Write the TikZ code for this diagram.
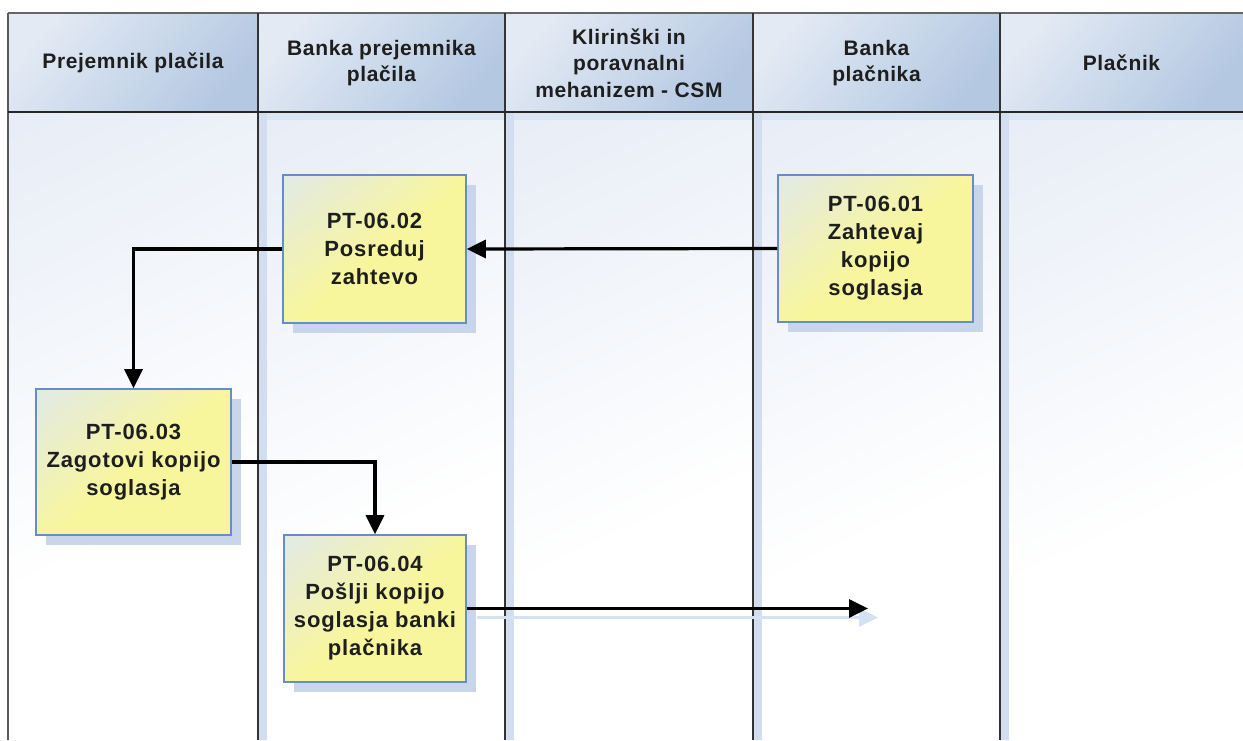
\documentclass[tikz,border=0pt]{standalone}
\usepackage{fontspec}
\setmainfont{Liberation Sans}
\newfontfamily\hdrfont{Liberation Sans}[LetterSpace=3]
\newfontfamily\boxfont{Liberation Sans}[LetterSpace=4]
\usetikzlibrary{arrows.meta}
\definecolor{hdrL}{HTML}{E3EAF4}
\definecolor{hdrR}{HTML}{B4C8E2}
\definecolor{laneTop}{HTML}{E6ECF6}
\definecolor{stripe}{HTML}{D2DEEF}
\definecolor{boxL}{HTML}{E4EBE0}
\definecolor{boxY}{HTML}{F8F69C}
\definecolor{boxBorder}{HTML}{658DCB}
\definecolor{shadowC}{HTML}{C9D6EA}
\definecolor{arrShadow}{HTML}{D6E1F1}
\definecolor{txt}{HTML}{1E1E1E}
\definecolor{lineC}{HTML}{333333}
\pgfdeclareverticalshading{boxshade}{100bp}{color(0bp)=(boxY); color(48bp)=(boxY); color(82bp)=(boxL); color(100bp)=(boxL)}
\pgfdeclareverticalshading{laneshade}{100bp}{color(0bp)=(white); color(40bp)=(white); color(85bp)=(laneTop); color(100bp)=(laneTop)}
\tikzset{
  hdrcell/.style={top color=hdrL, bottom color=hdrR, shading angle=50, draw=none},
  lanebody/.style={shading=laneshade, shading angle=25, draw=none},
  hdrtext/.style={align=center, text=txt, font=\hdrfont\bfseries\fontsize{21}{26.5}\selectfont},
  stepbox/.style={draw=boxBorder, line width=1.6pt, shading=boxshade, shading angle=40,
    align=center, text=txt, font=\boxfont\bfseries\fontsize{22}{28}\selectfont, inner sep=0pt},
  flow/.style={line width=3.2pt, draw=black, -{Triangle[length=19pt,width=18pt]}},
  flowshadow/.style={line width=3.2pt, draw=arrShadow, -{Triangle[length=19pt,width=18pt]}},
  divider/.style={draw=lineC, line width=2pt}
}
\begin{document}
\begin{tikzpicture}[x=1pt,y=-1pt]
\useasboundingbox (0,0) rectangle (1243,740);
\fill[white] (0,0) rectangle (1243,740);
% lane bodies
\shade[lanebody] (8,112) rectangle (258,740);
\shade[lanebody] (258,112) rectangle (505,740);
\shade[lanebody] (505,112) rectangle (753,740);
\shade[lanebody] (753,112) rectangle (1000,740);
\shade[lanebody] (1000,112) rectangle (1243,740);
% lane shadows (stripes)
\foreach \xx/\xe in {258/505,505/753,753/1000,1000/1243}{
  \fill[stripe] (\xx,112) rectangle (\xx+9,740);
  \fill[stripe, opacity=0.55] (\xx+9,112) rectangle (\xe,120);
}
% header cells
\shade[hdrcell] (8,13) rectangle (258,112);
\shade[hdrcell] (258,13) rectangle (505,112);
\shade[hdrcell] (505,13) rectangle (753,112);
\shade[hdrcell] (753,13) rectangle (1000,112);
\shade[hdrcell] (1000,13) rectangle (1243,112);
% borders
\draw[draw=gray!80!black, line width=2pt] (8,13) -- (1243,13);
\draw[divider, draw=gray!70!black] (8,13) -- (8,740);
\foreach \xx in {258,505,753,1000}{ \draw[divider] (\xx,13) -- (\xx,740); }
\draw[draw=black!85, line width=2pt] (8,112) -- (1243,112);
% header texts
\node[hdrtext] (h1) at (133,63) {Prejemnik plačila};
\node[hdrtext] (h2) at (381.5,63) {Banka prejemnika\\plačila};
\node[hdrtext] (h3) at (629,63) {Klirinški in\\poravnalni\\mehanizem - CSM};
\node[hdrtext] (h4) at (876.5,63) {Banka\\plačnika};
\node[hdrtext] (h5) at (1121.5,63) {Plačnik};
% shadows of boxes
\fill[shadowC] (293,185) rectangle (476,333);
\fill[shadowC] (788,185) rectangle (983,332);
\fill[shadowC] (46,399) rectangle (241,545);
\fill[shadowC] (294,545) rectangle (476,692);
% boxes
\node[stepbox, minimum width=183pt, minimum height=148pt] (b02) at (374.5,249) {PT-06.02\\Posreduj\\zahtevo};
\node[stepbox, minimum width=195pt, minimum height=147pt] (b01) at (875.5,248.5) {PT-06.01\\Zahtevaj\\kopijo\\soglasja};
\node[stepbox, minimum width=195pt, minimum height=146pt] (b03) at (133.5,462) {PT-06.03\\Zagotovi kopijo\\soglasja};
\node[stepbox, minimum width=182pt, minimum height=147pt] (b04) at (375,608.5) {PT-06.04\\Pošlji kopijo\\soglasja banki\\plačnika};
\coordinate (endpt) at (868,608.5);
% connectors
\draw[flowshadow, transform canvas={shift={(10,9)}}] (b04.east) -- (endpt);
\draw[flow] (b01.west) -- (b02.east);
\draw[flow] (b02.west) -| (b03.north);
\draw[flow] (b03.east) -| (b04.north);
\draw[flow] (b04.east) -- (endpt);
\end{tikzpicture}
\end{document}
